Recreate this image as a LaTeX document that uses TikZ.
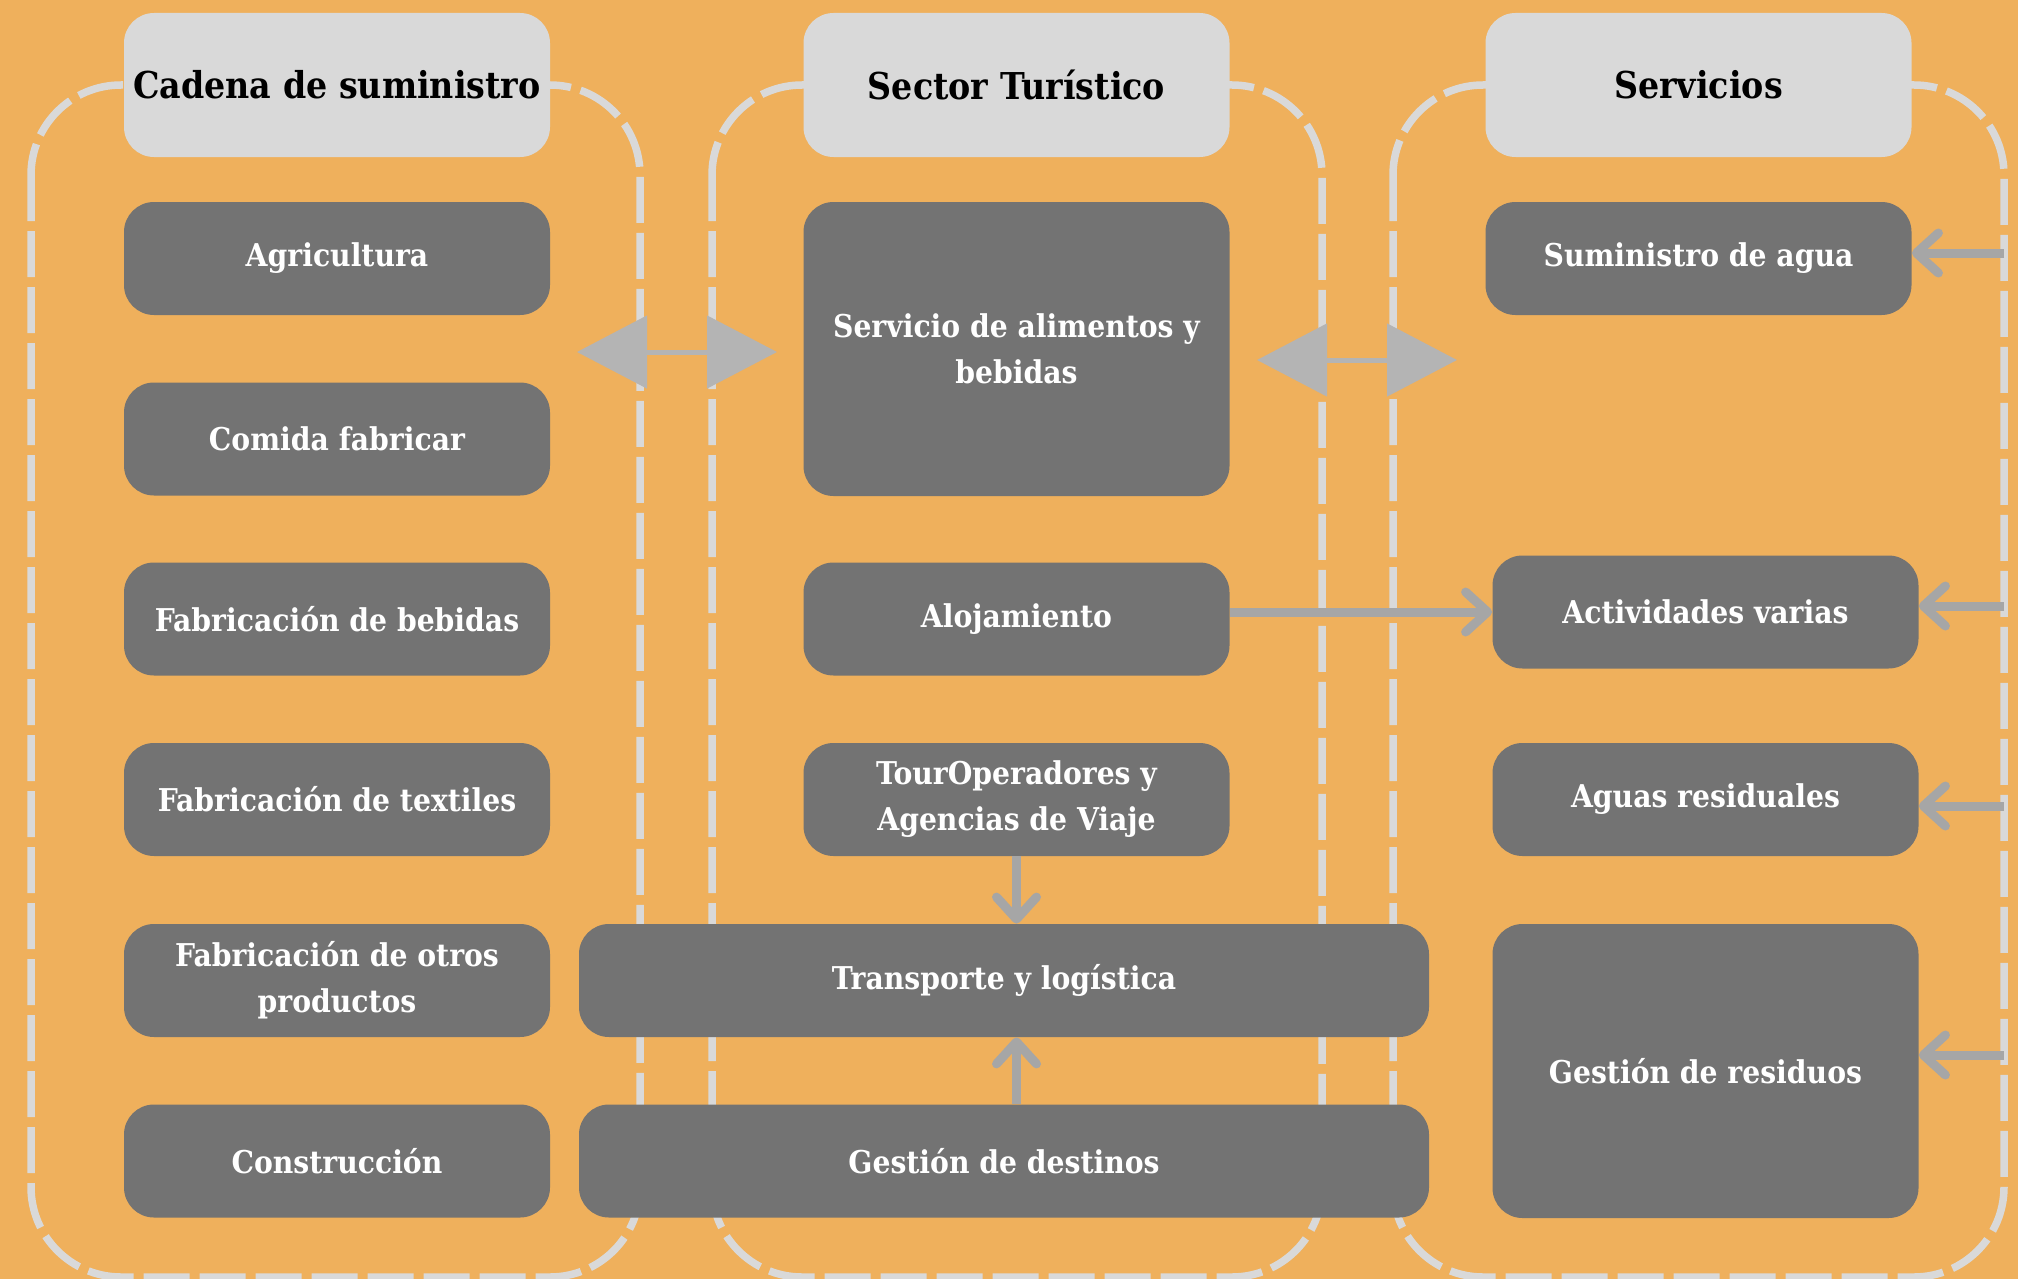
\documentclass[tikz,border=0pt]{standalone}
\usepackage{fontspec}
\setmainfont{DejaVu Serif Condensed}[BoldFont={DejaVu Serif Condensed Bold}]
\usetikzlibrary{arrows.meta}
\definecolor{bg}{RGB}{239,176,92}
\definecolor{hdr}{RGB}{217,217,217}
\definecolor{dark}{RGB}{115,115,115}
\definecolor{dashc}{RGB}{217,217,217}
\definecolor{arr}{RGB}{166,166,166}
\definecolor{bigarr}{RGB}{180,180,180}
\begin{document}
\begin{tikzpicture}[x=0.5pt,y=-0.5pt,
 container/.style={draw=dashc, line width=3.75pt, dash pattern=on 23pt off 5pt, rounded corners=45pt},
 hdrbox/.style={fill=hdr, rounded corners=15pt, inner sep=0pt, minimum width=213pt, minimum height=72pt, font=\bfseries\fontsize{18.5}{23}\selectfont, text=black},
 darkbox/.style={fill=dark, rounded corners=15pt, inner sep=0pt, minimum width=213pt, minimum height=56.5pt, font=\bfseries\fontsize{15.7}{23}\selectfont, text=white, align=center},
 wide/.style={minimum width=425pt},
 tall/.style={minimum height=147pt},
 thinarrow/.style={draw=arr, line width=4.5pt, -{Straight Barb[round,length=11pt,width=20pt]}},
 bigarrow/.style={draw=bigarr, line width=2.5pt, {Triangle[length=35pt,width=36pt]}-{Triangle[length=35pt,width=36pt]}}]
\fill[bg] (0,0) rectangle (2018,1279);
\useasboundingbox (0,0) rectangle (2018,1279);
% containers
\draw[container] (31,85) rectangle (640,1277);
\draw[container] (712,85) rectangle (1322,1277);
\draw[container] (1393,85) rectangle (2004,1277);
% headers
\node[hdrbox] (h1) at (337,85) {Cadena de suministro};
\node[hdrbox] (h2) at (1016.5,85) {Sector Turístico};
\node[hdrbox] (h3) at (1698.5,85) {Servicios};
% left column
\node[darkbox] (agri) at (337,258.5) {Agricultura};
\node[darkbox] (comida) at (337,439) {Comida fabricar};
\node[darkbox] (bebidas) at (337,619) {Fabricación de bebidas};
\node[darkbox] (textiles) at (337,799.5) {Fabricación de textiles};
\node[darkbox] (otros) at (337,980.5) {Fabricación de otros\\productos};
\node[darkbox] (constr) at (337,1161) {Construcción};
% middle column
\node[darkbox, tall] (alim) at (1016.5,349) {Servicio de alimentos y\\bebidas};
\node[darkbox] (aloj) at (1016.5,619) {Alojamiento};
\node[darkbox] (tour) at (1016.5,799.5) {TourOperadores y\\Agencias de Viaje};
\node[darkbox, wide] (trans) at (1004,980.5) {Transporte y logística};
\node[darkbox, wide] (dest) at (1004,1161) {Gestión de destinos};
% right column
\node[darkbox] (agua) at (1698.5,258.5) {Suministro de agua};
\node[darkbox] (act) at (1705.5,612) {Actividades varias};
\node[darkbox] (resid) at (1705.5,799.5) {Aguas residuales};
\node[darkbox, tall] (gres) at (1705.5,1071) {Gestión de residuos};
% big double arrows
\coordinate (b1l) at (577,352);
\coordinate (b1r) at (777,352);
\coordinate (b2l) at (1257,360);
\coordinate (b2r) at (1457,360);
\draw[bigarrow] (b1l) -- (b1r);
\draw[bigarrow] (b2l) -- (b2r);
% thin arrows
\draw[thinarrow] (aloj.east |- act.west) -- (act.west);
\draw[thinarrow] (tour.south) -- (tour.south |- trans.north);
\draw[thinarrow] (dest.north -| tour.south) -- (tour.south |- trans.south);
\coordinate (r1) at (2004,253);
\coordinate (r2) at (2004,606);
\coordinate (r3) at (2004,806);
\coordinate (r4) at (2004,1055);
\draw[thinarrow] (r1) -- (agua.east |- r1);
\draw[thinarrow] (r2) -- (act.east |- r2);
\draw[thinarrow] (r3) -- (resid.east |- r3);
\draw[thinarrow] (r4) -- (gres.east |- r4);
\end{tikzpicture}
\end{document}
